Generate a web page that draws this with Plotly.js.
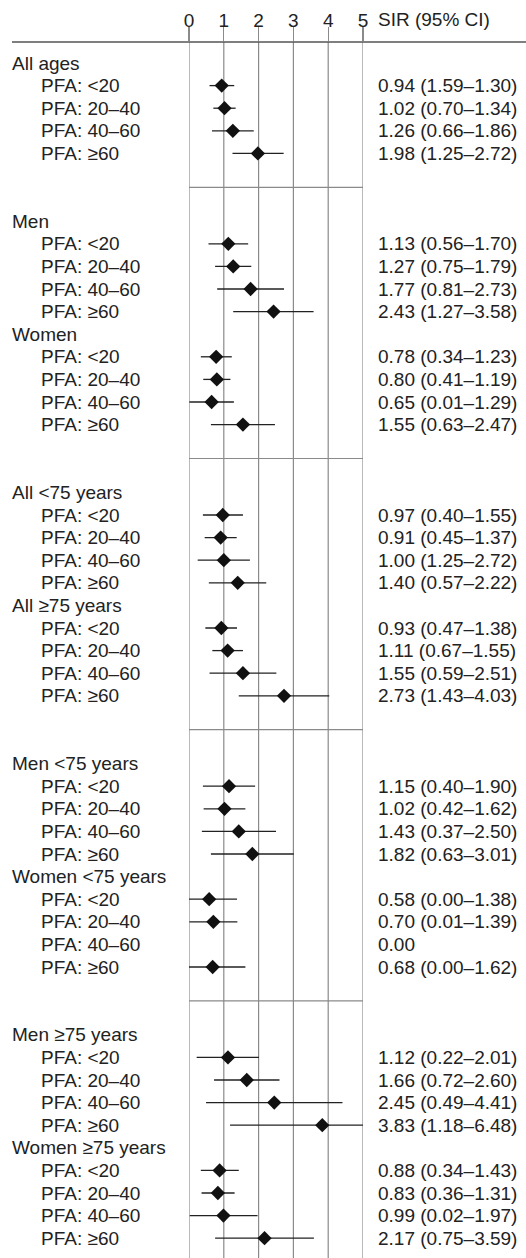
<!DOCTYPE html>
<html>
<head>
<meta charset="utf-8">
<script src="https://cdn.plot.ly/plotly-3.0.1.min.js"></script>
<style>
  html, body { margin: 0; padding: 0; background: #fff; }
  #chart { width: 526px; height: 1258px; }
</style>
</head>
<body>
<div id="chart"></div>
<script>
// ---------- data ----------
const groups = ["All ages", "Men", "Women", "All <75 years", "All \u226575 years",
                "Men <75 years", "Women <75 years", "Men \u226575 years", "Women \u226575 years"];
const sections = [[0], [1, 2], [3, 4], [5, 6], [7, 8]];
const pfaLabels = ["PFA: <20", "PFA: 20\u201340", "PFA: 40\u201360", "PFA: \u226560"];
const tickVals = [0, 1, 2, 3, 4, 5];
const tickText = ["0", "1", "2", "3", "4", "5"];
const ciHeader = "SIR (95% CI)";

const sir = [
  [0.94, 1.02, 1.26, 1.98],
  [1.13, 1.27, 1.77, 2.43],
  [0.78, 0.80, 0.65, 1.55],
  [0.97, 0.91, 1.00, 1.40],
  [0.93, 1.11, 1.55, 2.73],
  [1.15, 1.02, 1.43, 1.82],
  [0.58, 0.70, null, 0.68],
  [1.12, 1.66, 2.45, 3.83],
  [0.88, 0.83, 0.99, 2.17]
];
const ciLow = [
  [0.59, 0.70, 0.66, 1.25],
  [0.56, 0.75, 0.81, 1.27],
  [0.34, 0.41, 0.01, 0.63],
  [0.40, 0.45, 0.25, 0.57],
  [0.47, 0.67, 0.59, 1.43],
  [0.40, 0.42, 0.37, 0.63],
  [0.00, 0.01, null, 0.00],
  [0.22, 0.72, 0.49, 1.18],
  [0.34, 0.36, 0.02, 0.75]
];
const ciHigh = [
  [1.30, 1.34, 1.86, 2.72],
  [1.70, 1.79, 2.73, 3.58],
  [1.23, 1.19, 1.29, 2.47],
  [1.55, 1.37, 1.75, 2.22],
  [1.38, 1.55, 2.51, 4.03],
  [1.90, 1.62, 2.50, 3.01],
  [1.38, 1.39, null, 1.62],
  [2.01, 2.60, 4.41, 6.48],
  [1.43, 1.31, 1.97, 3.59]
];
const ciText = [
  ["0.94 (1.59\u20131.30)", "1.02 (0.70\u20131.34)", "1.26 (0.66\u20131.86)", "1.98 (1.25\u20132.72)"],
  ["1.13 (0.56\u20131.70)", "1.27 (0.75\u20131.79)", "1.77 (0.81\u20132.73)", "2.43 (1.27\u20133.58)"],
  ["0.78 (0.34\u20131.23)", "0.80 (0.41\u20131.19)", "0.65 (0.01\u20131.29)", "1.55 (0.63\u20132.47)"],
  ["0.97 (0.40\u20131.55)", "0.91 (0.45\u20131.37)", "1.00 (1.25\u20132.72)", "1.40 (0.57\u20132.22)"],
  ["0.93 (0.47\u20131.38)", "1.11 (0.67\u20131.55)", "1.55 (0.59\u20132.51)", "2.73 (1.43\u20134.03)"],
  ["1.15 (0.40\u20131.90)", "1.02 (0.42\u20131.62)", "1.43 (0.37\u20132.50)", "1.82 (0.63\u20133.01)"],
  ["0.58 (0.00\u20131.38)", "0.70 (0.01\u20131.39)", "0.00", "0.68 (0.00\u20131.62)"],
  ["1.12 (0.22\u20132.01)", "1.66 (0.72\u20132.60)", "2.45 (0.49\u20134.41)", "3.83 (1.18\u20136.48)"],
  ["0.88 (0.34\u20131.43)", "0.83 (0.36\u20131.31)", "0.99 (0.02\u20131.97)", "2.17 (0.75\u20133.59)"]
];

// ---------- layout geometry ----------
const W = 526, H = 1258;
const mL = 189, mR = 163, mT = 42, mB = 0;
const pw = W - mL - mR, ph = H - mT - mB;
const px2paperX = p => (p - mL) / pw;
const px2paperY = p => 1 - (p - mT) / ph;

const FONT = "Liberation Sans, Arial, sans-serif";
const FS = 19;
const TXT = "#222";
const GRID = "#8a8a8a";

// build rows
let idx = 0;
const sepY = [];
const lx = [], ly = [], mx = [], my = [];
const annotations = [];
const ann = (x, y, text) => ({xref: "paper", yref: "y", x: x, y: y, text: text,
  xanchor: "left", yanchor: "middle", showarrow: false, borderpad: 0,
  font: {family: FONT, size: FS, color: TXT}});
sections.forEach((sec, si) => {
  sec.forEach(g => {
    annotations.push(ann(px2paperX(11), idx, groups[g]));
    idx++;
    for (let k = 0; k < 4; k++) {
      annotations.push(ann(px2paperX(40), idx, pfaLabels[k]));
      annotations.push(ann(px2paperX(377), idx, ciText[g][k]));
      if (ciLow[g][k] !== null) {
        lx.push(ciLow[g][k], ciHigh[g][k], null);
        ly.push(idx, idx, null);
      }
      if (sir[g][k] !== null) { mx.push(sir[g][k]); my.push(idx); }
      idx++;
    }
  });
  if (si < sections.length - 1) { sepY.push(idx + 0.5); idx += 2; }
});

const rowPx = 22.6, row0Px = 63;
const yTop = (mT - row0Px) / rowPx;
const yBot = (H - mB - row0Px) / rowPx;

annotations.push({xref: "paper", yref: "paper", x: px2paperX(377), y: px2paperY(20), text: ciHeader,
  xanchor: "left", yanchor: "middle", showarrow: false, borderpad: 0,
  font: {family: FONT, size: FS, color: TXT}});

const shapes = [];
tickVals.forEach(v => shapes.push({type: "line", xref: "x", yref: "paper", x0: v, x1: v, y0: 0, y1: 1,
  line: {color: GRID, width: 1.2}, layer: "below"}));
sepY.forEach(v => shapes.push({type: "line", xref: "x", yref: "y", x0: 0, x1: 5, y0: v, y1: v,
  line: {color: GRID, width: 1.2}, layer: "below"}));
shapes.push({type: "line", xref: "paper", yref: "paper", x0: px2paperX(12), x1: px2paperX(526), y0: 1, y1: 1,
  line: {color: "#555", width: 1.6}});

const traces = [
  {type: "scatter", mode: "lines", x: lx, y: ly, line: {color: "#222", width: 1.3},
   hoverinfo: "skip", showlegend: false, connectgaps: false},
  {type: "scatter", mode: "markers", x: mx, y: my,
   marker: {symbol: "diamond", size: 11, color: "#111"}, showlegend: false}
];

const layout = {
  width: W, height: H,
  margin: {l: mL, r: mR, t: mT, b: mB},
  paper_bgcolor: "#fff", plot_bgcolor: "rgba(0,0,0,0)",
  showlegend: false,
  xaxis: {range: [0, 5], side: "top", tickvals: tickVals, ticktext: tickText,
    ticks: "outside", ticklen: 14, tickwidth: 1.2, tickcolor: GRID,
    showgrid: false, zeroline: false, showline: false, fixedrange: true,
    tickfont: {family: FONT, size: FS, color: TXT}, ticklabelstandoff: -8},
  yaxis: {range: [yBot, yTop], showticklabels: false, showgrid: false, zeroline: false,
    showline: false, ticks: "", fixedrange: true},
  shapes: shapes,
  annotations: annotations
};

Plotly.newPlot("chart", traces, layout, {displayModeBar: false, staticPlot: true});
</script>
</body>
</html>
